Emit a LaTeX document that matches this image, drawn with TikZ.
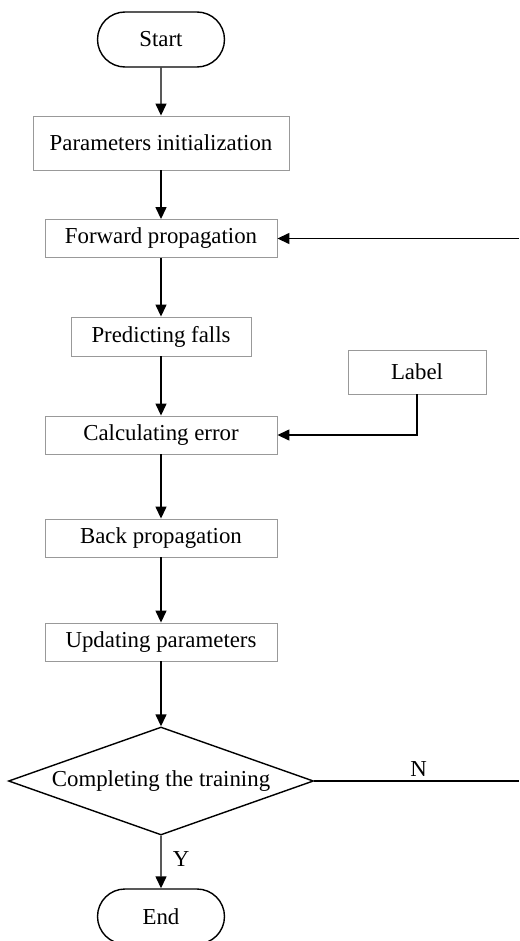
\documentclass[tikz,border=0pt]{standalone}
\usepackage{fontspec}
\setmainfont{Liberation Serif}
\usetikzlibrary{arrows.meta,positioning,shapes.geometric,shapes.misc}
\tikzset{
  flow/.style      = {-{Triangle[length=2.4mm,width=2.2mm]}, line width=0.8pt},
  plain/.style     = {line width=0.8pt},
  procbox/.style   = {rectangle, draw=gray!80, line width=0.5pt, fill=white,
                      inner sep=2pt, minimum width=4.64cm, minimum height=0.76cm},
  terminal/.style  = {rounded rectangle, draw, line width=0.8pt,
                      minimum width=2.68cm, minimum height=1.1cm, inner sep=2pt},
  decision/.style  = {diamond, draw, line width=0.8pt, aspect=2.82, inner sep=0pt,
                      minimum width=6.1cm, minimum height=2.16cm},
  yn/.style        = {font=\fontsize{13}{15}\selectfont},
}

\begin{document}
\begin{tikzpicture}[every node/.style={font=\fontsize{13}{15}\selectfont}]
  \useasboundingbox (0,0) rectangle (10.38,-18.82);

  \node[terminal] (start) at (3.22,-0.79) {Start};
  \node[procbox,minimum width=5.12cm,minimum height=1.08cm] (init) at (3.22,-2.86)
       {Parameters initialization};
  \node[procbox] (fwd) at (3.22,-4.77) {Forward propagation};
  \node[procbox,minimum width=3.6cm,minimum height=0.78cm] (pred) at (3.22,-6.73)
       {Predicting falls};
  \node[procbox,minimum width=2.76cm,minimum height=0.88cm] (lbl) at (8.34,-7.44)
       {Label};
  \node[procbox] (err) at (3.22,-8.70) {Calculating error};
  \node[procbox] (back) at (3.22,-10.76) {Back propagation};
  \node[procbox] (upd) at (3.22,-12.84) {Updating parameters};
  \node[decision] (done) at (3.22,-15.62) {Completing the training};
  \node[terminal] (end) at (3.22,-18.33) {End};

  % main chain
  \draw[flow] (start) -- (init);
  \draw[flow] (init) -- (fwd);
  \draw[flow] (fwd) -- (pred);
  \draw[flow] (pred) -- (err);
  \draw[flow] (err) -- (back);
  \draw[flow] (back) -- (upd);
  \draw[flow] (upd) -- (done);
  \draw[flow] (done) -- node[right=3pt,pos=0.45] {Y} (end);

  % label input
  \draw[flow] (lbl.south) |- (err.east);

  % loop back (leaves the picture on the right)
  \coordinate (nout) at (10.38,-15.62);
  \coordinate (nin) at (10.38,-4.77);
  \draw[plain] (done.east) -- node[above=-1pt,pos=0.51] {N} (nout);
  \draw[flow] (nin) -- (fwd.east);
\end{tikzpicture}
\end{document}
